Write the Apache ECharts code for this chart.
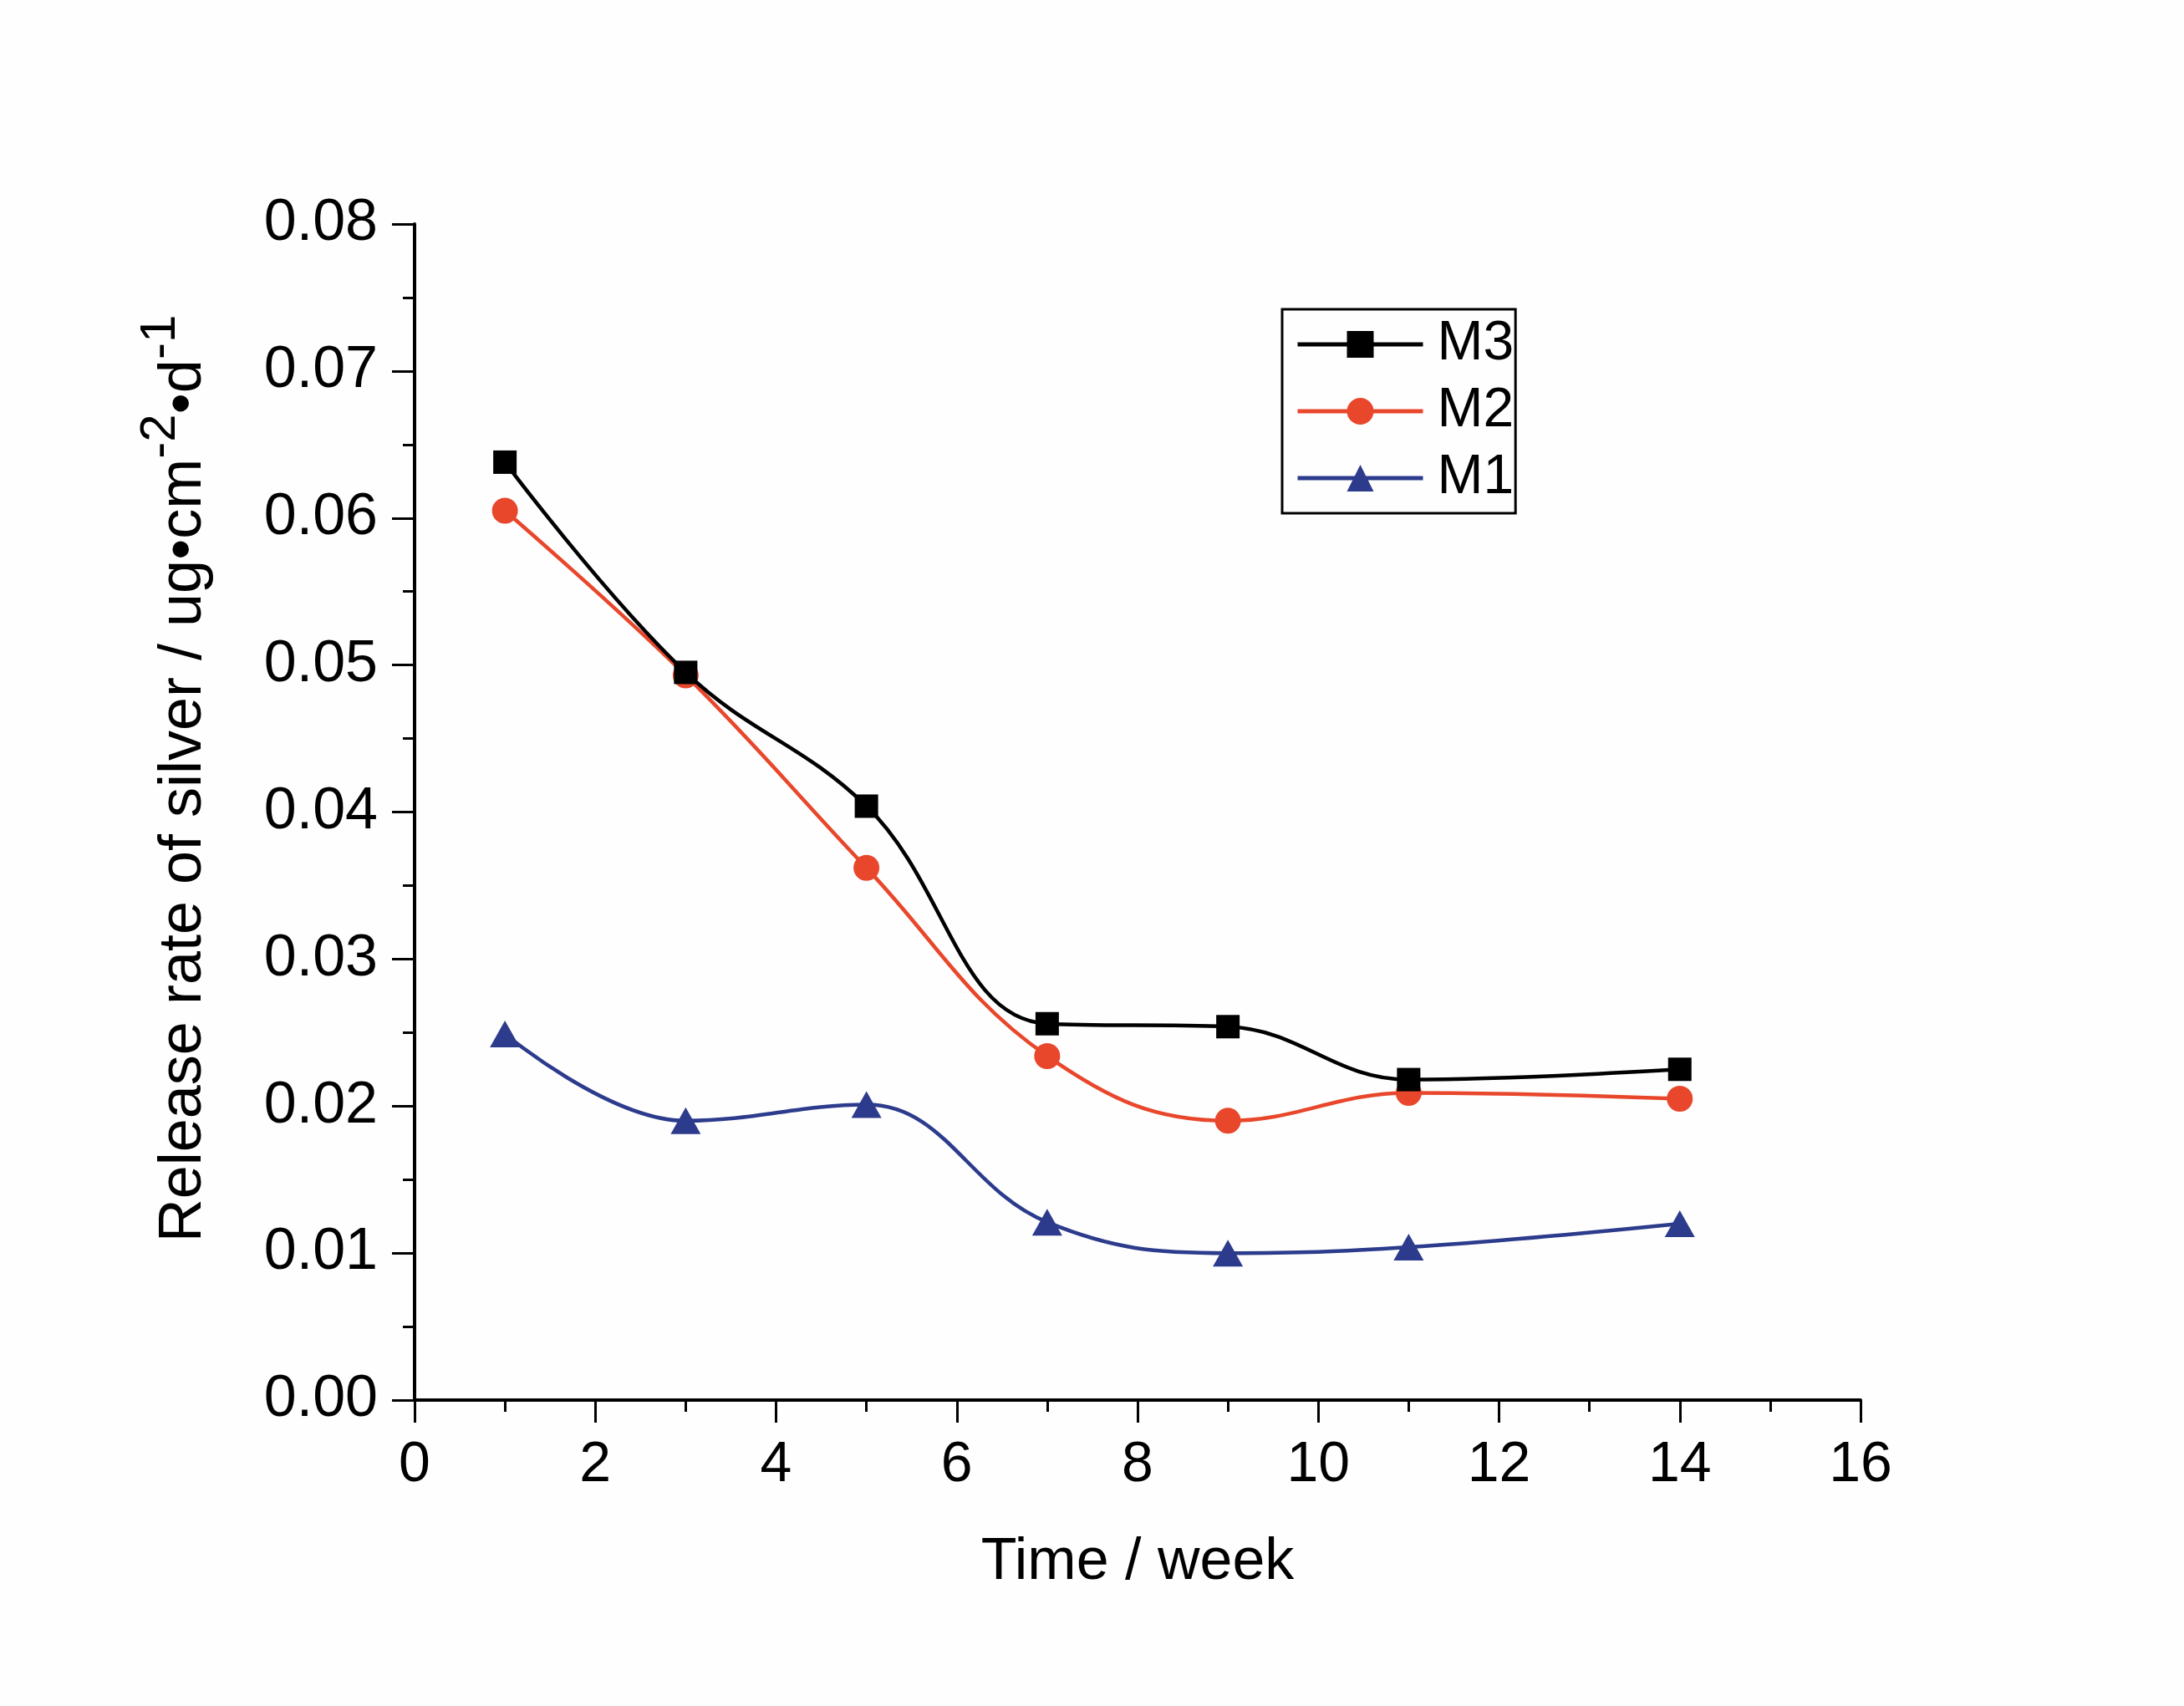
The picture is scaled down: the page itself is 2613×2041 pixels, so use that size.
<!DOCTYPE html>
<html>
<head>
<meta charset="utf-8">
<script src="https://cdn.jsdelivr.net/npm/echarts@6/dist/echarts.min.js"></script>
<style>
html,body{margin:0;padding:0;background:#fefefe;}
#chart{width:2613px;height:2041px;}
</style>
</head>
<body>
<div id="chart"></div>
<script>
var weeks = [1, 3, 5, 7, 9, 11, 14];
var m3 = [0.0638, 0.0495, 0.0404, 0.0256, 0.0254, 0.0218, 0.0225];
var m2 = [0.0605, 0.0493, 0.0362, 0.0234, 0.0190, 0.0209, 0.0205];
var m1 = [0.0249, 0.0190, 0.0201, 0.0121, 0.0100, 0.0104, 0.0120];
var yTicks = ['0.00','0.01','0.02','0.03','0.04','0.05','0.06','0.07','0.08'];
var xTicks = ['0','2','4','6','8','10','12','14','16'];

function pairs(xs, ys){ return xs.map(function(x,i){ return [x, ys[i]]; }); }

var FONT = "'Liberation Sans', Arial, sans-serif";
var chart = echarts.init(document.getElementById('chart'));
chart.setOption({
  backgroundColor: '#fefefe',
  animation: false,
  grid: {left: 496, right: 387, top: 268, bottom: 366, containLabel: false},
  legend: {
    orient: 'vertical',
    left: 1534, top: 370,
    data: ['M3','M2','M1'],
    itemWidth: 150, itemHeight: 40, itemGap: 12,
    padding: [8, 2, 8, 16],
    borderColor: '#000', borderWidth: 3,
    lineStyle: {width: 5},
    textStyle: {fontFamily: FONT, fontSize: 66, lineHeight: 68, color: '#000', padding:[0,0,0,12]}
  },
  xAxis: {
    type: 'value', min: 0, max: 16, interval: 2,
    name: 'Time / week', nameLocation: 'middle', nameGap: 160,
    nameTextStyle: {fontFamily: FONT, fontSize: 70, color: '#000'},
    axisLine: {show: true, onZero: false, lineStyle: {color: '#000', width: 4}},
    axisTick: {show: true, inside: false, length: 27, lineStyle: {color: '#000', width: 3}},
    minorTick: {show: true, splitNumber: 2, length: 14, lineStyle: {color: '#000', width: 3}},
    splitLine: {show: false},
    axisLabel: {fontFamily: FONT, fontSize: 68, color: '#000', margin: 44,
      formatter: function(v){ var i = Math.round(v/2); return xTicks[i] !== undefined ? xTicks[i] : ''; }}
  },
  yAxis: {
    type: 'value', min: 0, max: 0.08, interval: 0.01,
    name: 'Release rate of silver / ug•cm{s|-2}•d{s|-1}', nameLocation: 'middle', nameGap: 218,
    nameRotate: 90,
    nameTextStyle: {fontFamily: FONT, fontSize: 72, color: '#000', padding: [0,0,0,80],
      rich: {s: {fontFamily: FONT, fontSize: 60, color: '#000', verticalAlign: 'top', padding: [0,0,56,0]}}},
    axisLine: {show: true, onZero: false, lineStyle: {color: '#000', width: 4}},
    axisTick: {show: true, inside: false, length: 27, lineStyle: {color: '#000', width: 3}},
    minorTick: {show: true, splitNumber: 2, length: 14, lineStyle: {color: '#000', width: 3}},
    splitLine: {show: false},
    axisLabel: {fontFamily: FONT, fontSize: 70, color: '#000', margin: 44,
      formatter: function(v){ var i = Math.round(v*100); return yTicks[i] !== undefined ? yTicks[i] : ''; }}
  },
  series: [
    {name: 'M1', type: 'line', smooth: 0.4, data: pairs(weeks, m1),
     symbol: 'triangle', symbolSize: [36, 32],
     lineStyle: {color: '#2c3b8c', width: 4.5}, itemStyle: {color: '#2c3b8c'}},
    {name: 'M2', type: 'line', smooth: 0.4, data: pairs(weeks, m2),
     symbol: 'circle', symbolSize: 31,
     lineStyle: {color: '#e8472c', width: 4.5}, itemStyle: {color: '#e8472c'}},
    {name: 'M3', type: 'line', smooth: 0.4, data: pairs(weeks, m3),
     symbol: 'rect', symbolSize: 28,
     lineStyle: {color: '#000', width: 4.5}, itemStyle: {color: '#000'}}
  ]
});
</script>
</body>
</html>
